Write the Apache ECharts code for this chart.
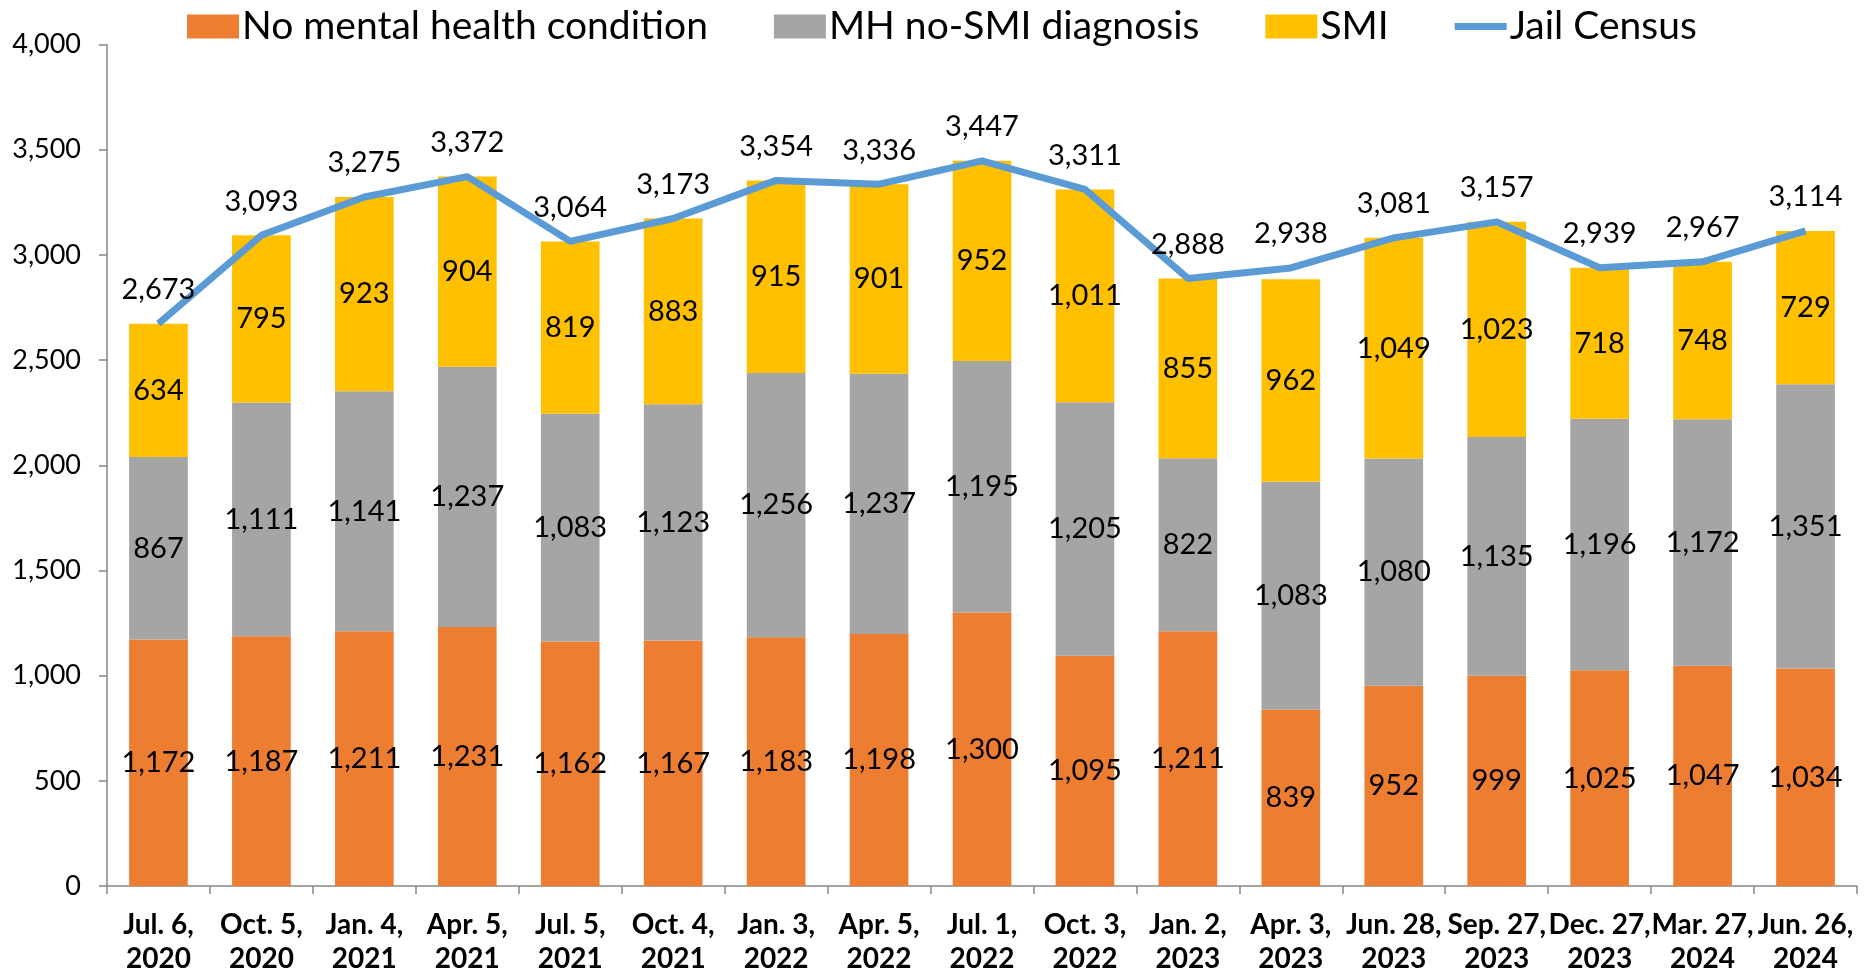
<!DOCTYPE html>
<html>
<head>
<meta charset="utf-8">
<script src="https://cdn.jsdelivr.net/npm/echarts@6/dist/echarts.min.js"></script>
<style>
html,body{margin:0;padding:0;background:#fff;}
#chart{width:1864px;height:976px;}
</style>
</head>
<body>
<div id="chart"></div>
<script>
const categories = ["Jul. 6,\n2020","Oct. 5,\n2020","Jan. 4,\n2021","Apr. 5,\n2021","Jul. 5,\n2021","Oct. 4,\n2021","Jan. 3,\n2022","Apr. 5,\n2022","Jul. 1,\n2022","Oct. 3,\n2022","Jan. 2,\n2023","Apr. 3,\n2023","Jun. 28,\n2023","Sep. 27,\n2023","Dec. 27,\n2023","Mar. 27,\n2024","Jun. 26,\n2024"];
const noMentalHealth = [1172,1187,1211,1231,1162,1167,1183,1198,1300,1095,1211,839,952,999,1025,1047,1034];
const mhNoSmi = [867,1111,1141,1237,1083,1123,1256,1237,1195,1205,822,1083,1080,1135,1196,1172,1351];
const smi = [634,795,923,904,819,883,915,901,952,1011,855,962,1049,1023,718,748,729];
const jailCensus = [2673,3093,3275,3372,3064,3173,3354,3336,3447,3311,2888,2938,3081,3157,2939,2967,3114];
const seriesNames = ["No mental health condition","MH no-SMI diagnosis","SMI","Jail Census"];

const FONT = "Lato, 'Open Sans', sans-serif";
const fmt = v => Number(v).toLocaleString('en-US');

const chart = echarts.init(document.getElementById('chart'), null, {renderer:'canvas'});
const barLabel = {show:true, position:'inside', color:'#000', fontSize:29, fontFamily:FONT, formatter:p=>fmt(p.value)};
chart.setOption({
  animation:false,
  backgroundColor:'#fff',
  textStyle:{fontFamily:FONT},
  legend:{
    top:2, left:182,
    itemWidth:52, itemHeight:24, itemGap:66,
    textStyle:{fontSize:39, color:'#000', fontFamily:FONT, padding:[0,0,0,-2]},
    data:[
      {name:seriesNames[0], icon:'rect'},
      {name:seriesNames[1], icon:'rect'},
      {name:seriesNames[2], icon:'rect'},
      {name:seriesNames[3], icon:'path://M0,0 L52,0 L52,7 L0,7 Z', itemStyle:{color:'#5B9BD5'}}
    ]
  },
  grid:{left:107, right:7, top:44.5, bottom:86, containLabel:false},
  xAxis:{
    type:'category', data:categories,
    axisLine:{lineStyle:{color:'#868686', width:1.5}},
    axisTick:{show:true, length:8, lineStyle:{color:'#868686', width:1.5}},
    axisLabel:{fontSize:28, fontWeight:'bold', color:'#000', fontFamily:FONT, margin:22, lineHeight:34, interval:0}
  },
  yAxis:{
    type:'value', min:0, max:4000, interval:500,
    axisLine:{show:true, lineStyle:{color:'#868686', width:1.5}},
    axisTick:{show:true, length:8, lineStyle:{color:'#868686', width:1.5}},
    splitLine:{show:false},
    axisLabel:{fontSize:27, color:'#000', fontFamily:FONT, margin:26, formatter:v=>fmt(v)}
  },
  series:[
    {name:seriesNames[0], type:'bar', stack:'total', data:noMentalHealth, barWidth:'57%', itemStyle:{color:'#ED7D31'}, label:barLabel},
    {name:seriesNames[1], type:'bar', stack:'total', data:mhNoSmi, barWidth:'57%', itemStyle:{color:'#A5A5A5'}, label:barLabel},
    {name:seriesNames[2], type:'bar', stack:'total', data:smi, barWidth:'57%', itemStyle:{color:'#FFC000'}, label:barLabel},
    {name:seriesNames[3], type:'line', data:jailCensus, symbol:'circle', symbolSize:1, showSymbol:true,
     itemStyle:{color:'#5B9BD5'}, lineStyle:{color:'#5B9BD5', width:7},
     label:{show:true, position:'top', distance:19, color:'#000', fontSize:29, fontFamily:FONT, formatter:p=>fmt(p.value)},
     z:5}
  ]
});
</script>
</body>
</html>
